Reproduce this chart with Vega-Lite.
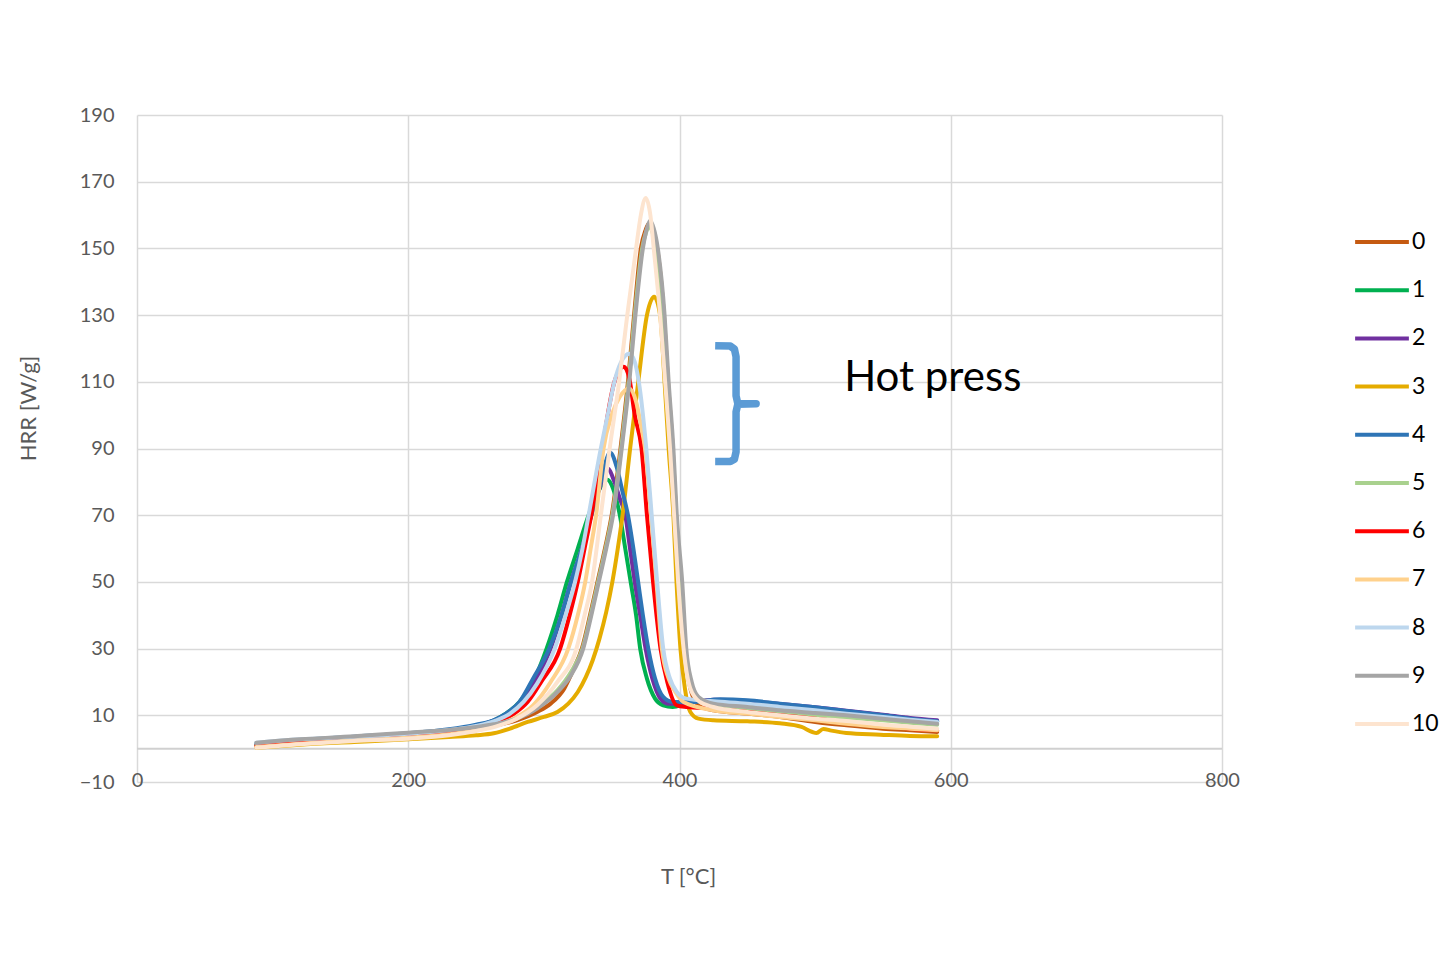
{
  "$schema": "https://vega.github.io/schema/vega-lite/v6.json",
  "width": 1085,
  "height": 667,
  "autosize": {"type": "none"},
  "padding": {"left": 137, "top": 115, "right": 227, "bottom": 173},
  "background": "white",
  "config": {
    "font": "Lato",
    "view": {"stroke": null},
    "axis": {"gridColor": "#d9d9d9", "gridWidth": 1.5, "domain": false, "ticks": false, "labelColor": "#595959", "labelFontSize": 20, "titleColor": "#595959", "titleFontSize": 22, "titleFontWeight": "normal", "labelFont": "Lato", "titleFont": "Lato"}
  },
  "datasets": {
    "hrr": [
      {"s":"0","T":88,"H":0.8},{"s":"0","T":120,"H":1.8},{"s":"0","T":160,"H":2.7},{"s":"0","T":200,"H":3.8},{"s":"0","T":230,"H":4.8},{"s":"0","T":250,"H":5.8},{"s":"0","T":265,"H":7},{"s":"0","T":280,"H":8.5},{"s":"0","T":295,"H":11},{"s":"0","T":305,"H":13.5},{"s":"0","T":315,"H":18},{"s":"0","T":322,"H":24},{"s":"0","T":328,"H":30},{"s":"0","T":334,"H":40},{"s":"0","T":339.5,"H":50},{"s":"0","T":345,"H":60},{"s":"0","T":350,"H":70},{"s":"0","T":356.5,"H":90},{"s":"0","T":362,"H":110},{"s":"0","T":366.5,"H":130},{"s":"0","T":371.5,"H":150},{"s":"0","T":375,"H":155.5},{"s":"0","T":377.4,"H":157.5},{"s":"0","T":380,"H":155.5},{"s":"0","T":383.5,"H":150},{"s":"0","T":388.5,"H":130},{"s":"0","T":391.5,"H":110},{"s":"0","T":395,"H":90},{"s":"0","T":397.5,"H":70},{"s":"0","T":401,"H":50},{"s":"0","T":404,"H":30},{"s":"0","T":408,"H":18},{"s":"0","T":414,"H":13},{"s":"0","T":425,"H":11.5},{"s":"0","T":450,"H":10.5},{"s":"0","T":474,"H":9.5},{"s":"0","T":500,"H":8},{"s":"0","T":523,"H":7},{"s":"0","T":550,"H":6},{"s":"0","T":570,"H":5.5},{"s":"0","T":590,"H":5},
      {"s":"1","T":88,"H":1},{"s":"1","T":120,"H":2.2},{"s":"1","T":160,"H":3.2},{"s":"1","T":200,"H":4.3},{"s":"1","T":230,"H":5.4},{"s":"1","T":250,"H":6.8},{"s":"1","T":262,"H":8.3},{"s":"1","T":272,"H":10.5},{"s":"1","T":282,"H":14},{"s":"1","T":292,"H":20},{"s":"1","T":302,"H":30},{"s":"1","T":310,"H":40},{"s":"1","T":317,"H":50},{"s":"1","T":325,"H":60},{"s":"1","T":333,"H":70},{"s":"1","T":340,"H":77},{"s":"1","T":346.6,"H":80.7},{"s":"1","T":351,"H":78},{"s":"1","T":356,"H":70},{"s":"1","T":360,"H":60},{"s":"1","T":364,"H":50},{"s":"1","T":368,"H":40},{"s":"1","T":371,"H":30},{"s":"1","T":376,"H":21},{"s":"1","T":382,"H":15},{"s":"1","T":388,"H":13},{"s":"1","T":395,"H":12.5},{"s":"1","T":405,"H":13.5},{"s":"1","T":425,"H":14.5},{"s":"1","T":450,"H":14},{"s":"1","T":474,"H":13.2},{"s":"1","T":500,"H":12.2},{"s":"1","T":523,"H":11.2},{"s":"1","T":550,"H":10},{"s":"1","T":570,"H":9},{"s":"1","T":590,"H":8.2},
      {"s":"2","T":88,"H":1},{"s":"2","T":120,"H":2.2},{"s":"2","T":160,"H":3.3},{"s":"2","T":200,"H":4.3},{"s":"2","T":230,"H":5.5},{"s":"2","T":250,"H":6.8},{"s":"2","T":265,"H":8.8},{"s":"2","T":275,"H":11},{"s":"2","T":285,"H":15},{"s":"2","T":295,"H":21},{"s":"2","T":305,"H":30},{"s":"2","T":313,"H":40},{"s":"2","T":320,"H":50},{"s":"2","T":328,"H":60},{"s":"2","T":335,"H":70},{"s":"2","T":341,"H":78},{"s":"2","T":347,"H":84},{"s":"2","T":352,"H":80},{"s":"2","T":356,"H":75},{"s":"2","T":360,"H":70},{"s":"2","T":363.5,"H":60},{"s":"2","T":367,"H":50},{"s":"2","T":371,"H":40},{"s":"2","T":375,"H":30},{"s":"2","T":380,"H":21},{"s":"2","T":386,"H":15},{"s":"2","T":392,"H":13.5},{"s":"2","T":400,"H":13.5},{"s":"2","T":425,"H":14.7},{"s":"2","T":450,"H":14.3},{"s":"2","T":474,"H":13.4},{"s":"2","T":500,"H":12.4},{"s":"2","T":523,"H":11.4},{"s":"2","T":550,"H":10.2},{"s":"2","T":570,"H":9.2},{"s":"2","T":590,"H":8.5},
      {"s":"3","T":88,"H":0.3},{"s":"3","T":120,"H":1.2},{"s":"3","T":160,"H":2},{"s":"3","T":200,"H":2.8},{"s":"3","T":230,"H":3.5},{"s":"3","T":250,"H":4},{"s":"3","T":263,"H":4.6},{"s":"3","T":275,"H":6},{"s":"3","T":288,"H":8},{"s":"3","T":300,"H":9.5},{"s":"3","T":310,"H":11},{"s":"3","T":318,"H":13.5},{"s":"3","T":325,"H":17},{"s":"3","T":331,"H":21.5},{"s":"3","T":336,"H":26.5},{"s":"3","T":341,"H":33},{"s":"3","T":346,"H":41},{"s":"3","T":350.5,"H":50},{"s":"3","T":354.5,"H":60},{"s":"3","T":358,"H":70},{"s":"3","T":363.6,"H":90},{"s":"3","T":369.6,"H":110},{"s":"3","T":376,"H":130},{"s":"3","T":381.3,"H":135.5},{"s":"3","T":385.7,"H":130},{"s":"3","T":389,"H":110},{"s":"3","T":392,"H":90},{"s":"3","T":395.5,"H":70},{"s":"3","T":397.8,"H":50},{"s":"3","T":400.7,"H":30},{"s":"3","T":404,"H":18},{"s":"3","T":408,"H":11},{"s":"3","T":414,"H":9},{"s":"3","T":425,"H":8.5},{"s":"3","T":450,"H":8.2},{"s":"3","T":474,"H":7.6},{"s":"3","T":490,"H":6.5},{"s":"3","T":498,"H":5},{"s":"3","T":501,"H":4.7},{"s":"3","T":506,"H":5.9},{"s":"3","T":512,"H":5.4},{"s":"3","T":523,"H":4.7},{"s":"3","T":548,"H":4.2},{"s":"3","T":570,"H":3.8},{"s":"3","T":590,"H":3.7},
      {"s":"4","T":88,"H":1.5},{"s":"4","T":120,"H":2.6},{"s":"4","T":160,"H":3.6},{"s":"4","T":200,"H":4.6},{"s":"4","T":230,"H":5.8},{"s":"4","T":250,"H":7.2},{"s":"4","T":263,"H":8.5},{"s":"4","T":272,"H":10.5},{"s":"4","T":282,"H":14},{"s":"4","T":292,"H":21},{"s":"4","T":304,"H":30},{"s":"4","T":313,"H":40},{"s":"4","T":320,"H":50},{"s":"4","T":328,"H":60},{"s":"4","T":335,"H":70},{"s":"4","T":342,"H":80},{"s":"4","T":348.8,"H":88.8},{"s":"4","T":354,"H":84},{"s":"4","T":358,"H":77},{"s":"4","T":362,"H":70},{"s":"4","T":366,"H":60},{"s":"4","T":369.5,"H":50},{"s":"4","T":373,"H":40},{"s":"4","T":377,"H":30},{"s":"4","T":382,"H":21},{"s":"4","T":388,"H":15.5},{"s":"4","T":395,"H":14},{"s":"4","T":410,"H":14},{"s":"4","T":430,"H":14.8},{"s":"4","T":450,"H":14.5},{"s":"4","T":474,"H":13.5},{"s":"4","T":500,"H":12.4},{"s":"4","T":523,"H":11.3},{"s":"4","T":550,"H":10},{"s":"4","T":570,"H":9},{"s":"4","T":590,"H":8.2},
      {"s":"5","T":88,"H":1},{"s":"5","T":120,"H":2.2},{"s":"5","T":160,"H":3.2},{"s":"5","T":200,"H":4.2},{"s":"5","T":230,"H":5.2},{"s":"5","T":250,"H":6.2},{"s":"5","T":265,"H":7.5},{"s":"5","T":280,"H":9},{"s":"5","T":295,"H":12.5},{"s":"5","T":310,"H":17.5},{"s":"5","T":320,"H":23},{"s":"5","T":328.5,"H":30},{"s":"5","T":334.5,"H":40},{"s":"5","T":340,"H":50},{"s":"5","T":345.5,"H":60},{"s":"5","T":350.5,"H":70},{"s":"5","T":357,"H":90},{"s":"5","T":362.5,"H":110},{"s":"5","T":367,"H":130},{"s":"5","T":372.5,"H":150},{"s":"5","T":375.5,"H":155},{"s":"5","T":377.5,"H":156.7},{"s":"5","T":380,"H":155},{"s":"5","T":383,"H":150},{"s":"5","T":388,"H":130},{"s":"5","T":391,"H":110},{"s":"5","T":394.5,"H":90},{"s":"5","T":397,"H":70},{"s":"5","T":400.5,"H":50},{"s":"5","T":403.5,"H":30},{"s":"5","T":407.5,"H":20},{"s":"5","T":413,"H":15},{"s":"5","T":425,"H":13},{"s":"5","T":450,"H":12},{"s":"5","T":474,"H":11},{"s":"5","T":500,"H":10},{"s":"5","T":523,"H":9.3},{"s":"5","T":550,"H":8.5},{"s":"5","T":570,"H":7.8},{"s":"5","T":590,"H":7.2},
      {"s":"6","T":88,"H":0.8},{"s":"6","T":120,"H":2},{"s":"6","T":160,"H":3},{"s":"6","T":200,"H":4},{"s":"6","T":230,"H":5},{"s":"6","T":250,"H":6.3},{"s":"6","T":265,"H":8},{"s":"6","T":278,"H":10.5},{"s":"6","T":288,"H":14},{"s":"6","T":298,"H":20},{"s":"6","T":312,"H":30},{"s":"6","T":319,"H":40},{"s":"6","T":325,"H":50},{"s":"6","T":330,"H":60},{"s":"6","T":335,"H":70},{"s":"6","T":343,"H":90},{"s":"6","T":352,"H":110},{"s":"6","T":359,"H":114.5},{"s":"6","T":363,"H":111},{"s":"6","T":367,"H":100},{"s":"6","T":372,"H":90},{"s":"6","T":376,"H":70},{"s":"6","T":380.5,"H":50},{"s":"6","T":386,"H":30},{"s":"6","T":391,"H":20},{"s":"6","T":398,"H":13},{"s":"6","T":405,"H":12.5},{"s":"6","T":425,"H":12},{"s":"6","T":450,"H":11},{"s":"6","T":474,"H":10},{"s":"6","T":500,"H":9},{"s":"6","T":523,"H":8},{"s":"6","T":550,"H":7},{"s":"6","T":570,"H":6},{"s":"6","T":590,"H":5.5},
      {"s":"7","T":88,"H":0.5},{"s":"7","T":120,"H":1.5},{"s":"7","T":160,"H":2.5},{"s":"7","T":200,"H":3.3},{"s":"7","T":230,"H":4.3},{"s":"7","T":250,"H":5.5},{"s":"7","T":265,"H":7},{"s":"7","T":280,"H":9.5},{"s":"7","T":292,"H":13},{"s":"7","T":305,"H":20},{"s":"7","T":318,"H":30},{"s":"7","T":325,"H":40},{"s":"7","T":330.5,"H":50},{"s":"7","T":334.5,"H":60},{"s":"7","T":338.5,"H":70},{"s":"7","T":344,"H":90},{"s":"7","T":350,"H":100},{"s":"7","T":356,"H":105.5},{"s":"7","T":363,"H":108},{"s":"7","T":368,"H":104},{"s":"7","T":372,"H":96},{"s":"7","T":374.6,"H":90},{"s":"7","T":379,"H":70},{"s":"7","T":383,"H":50},{"s":"7","T":387,"H":30},{"s":"7","T":392,"H":21},{"s":"7","T":397,"H":17},{"s":"7","T":403,"H":14},{"s":"7","T":425,"H":11.5},{"s":"7","T":450,"H":10.5},{"s":"7","T":474,"H":9.5},{"s":"7","T":500,"H":8.5},{"s":"7","T":523,"H":7.5},{"s":"7","T":550,"H":6.5},{"s":"7","T":570,"H":6},{"s":"7","T":590,"H":5.5},
      {"s":"8","T":88,"H":1.8},{"s":"8","T":120,"H":2.8},{"s":"8","T":160,"H":3.6},{"s":"8","T":200,"H":4.5},{"s":"8","T":230,"H":5.6},{"s":"8","T":250,"H":6.8},{"s":"8","T":265,"H":8.5},{"s":"8","T":275,"H":10.5},{"s":"8","T":285,"H":14},{"s":"8","T":295,"H":19.5},{"s":"8","T":308,"H":30},{"s":"8","T":316,"H":40},{"s":"8","T":323,"H":50},{"s":"8","T":328.5,"H":60},{"s":"8","T":333,"H":70},{"s":"8","T":342,"H":90},{"s":"8","T":347,"H":100},{"s":"8","T":352,"H":110},{"s":"8","T":357,"H":116},{"s":"8","T":363,"H":118.4},{"s":"8","T":367,"H":116},{"s":"8","T":370,"H":110},{"s":"8","T":375.5,"H":90},{"s":"8","T":379.5,"H":70},{"s":"8","T":383.5,"H":50},{"s":"8","T":388,"H":30},{"s":"8","T":393,"H":21},{"s":"8","T":398,"H":17},{"s":"8","T":405,"H":15},{"s":"8","T":425,"H":14.2},{"s":"8","T":450,"H":13.5},{"s":"8","T":474,"H":12.5},{"s":"8","T":500,"H":11.5},{"s":"8","T":523,"H":10.5},{"s":"8","T":550,"H":9.5},{"s":"8","T":570,"H":8.7},{"s":"8","T":590,"H":8},
      {"s":"9","T":88,"H":1.8},{"s":"9","T":120,"H":2.8},{"s":"9","T":160,"H":3.7},{"s":"9","T":200,"H":4.8},{"s":"9","T":230,"H":5.6},{"s":"9","T":250,"H":6.5},{"s":"9","T":263,"H":7.3},{"s":"9","T":280,"H":9},{"s":"9","T":295,"H":12},{"s":"9","T":310,"H":17},{"s":"9","T":320,"H":22},{"s":"9","T":329,"H":30},{"s":"9","T":335,"H":40},{"s":"9","T":340.5,"H":50},{"s":"9","T":346,"H":60},{"s":"9","T":351,"H":70},{"s":"9","T":357.4,"H":90},{"s":"9","T":363,"H":110},{"s":"9","T":367.5,"H":130},{"s":"9","T":373,"H":150},{"s":"9","T":376,"H":156},{"s":"9","T":378.3,"H":158.3},{"s":"9","T":381,"H":156},{"s":"9","T":384,"H":150},{"s":"9","T":389,"H":130},{"s":"9","T":392,"H":110},{"s":"9","T":395.5,"H":90},{"s":"9","T":398,"H":70},{"s":"9","T":402,"H":50},{"s":"9","T":405,"H":30},{"s":"9","T":409,"H":20},{"s":"9","T":414,"H":15.5},{"s":"9","T":425,"H":13.5},{"s":"9","T":450,"H":12.5},{"s":"9","T":474,"H":11.5},{"s":"9","T":500,"H":10.7},{"s":"9","T":523,"H":10},{"s":"9","T":550,"H":9},{"s":"9","T":570,"H":8.2},{"s":"9","T":590,"H":7.5},
      {"s":"10","T":88,"H":0.3},{"s":"10","T":120,"H":1.3},{"s":"10","T":160,"H":2.3},{"s":"10","T":200,"H":3},{"s":"10","T":230,"H":4},{"s":"10","T":250,"H":5.3},{"s":"10","T":265,"H":6.7},{"s":"10","T":280,"H":9},{"s":"10","T":295,"H":13},{"s":"10","T":310,"H":20},{"s":"10","T":324,"H":30},{"s":"10","T":330,"H":40},{"s":"10","T":335.5,"H":50},{"s":"10","T":342,"H":70},{"s":"10","T":348.5,"H":90},{"s":"10","T":355.5,"H":110},{"s":"10","T":361.5,"H":130},{"s":"10","T":368,"H":150},{"s":"10","T":371.5,"H":160},{"s":"10","T":375.1,"H":165.1},{"s":"10","T":378.5,"H":160},{"s":"10","T":381,"H":150},{"s":"10","T":385.7,"H":130},{"s":"10","T":389.4,"H":110},{"s":"10","T":393,"H":90},{"s":"10","T":396,"H":70},{"s":"10","T":399,"H":50},{"s":"10","T":403,"H":30},{"s":"10","T":408,"H":18},{"s":"10","T":415,"H":14},{"s":"10","T":425,"H":12.5},{"s":"10","T":450,"H":11},{"s":"10","T":474,"H":10},{"s":"10","T":500,"H":9},{"s":"10","T":523,"H":8.3},{"s":"10","T":550,"H":7.2},{"s":"10","T":570,"H":6.6},{"s":"10","T":590,"H":6}
    ],
    "bracket": [
      {"o":1,"T":426.3,"H":120.8},{"o":2,"T":437.5,"H":120.7},{"o":3,"T":440.5,"H":119.8},{"o":4,"T":441.7,"H":117.5},{"o":5,"T":441.7,"H":105.8},{"o":6,"T":443,"H":103.4},{"o":7,"T":456.5,"H":103.4},{"o":8,"T":443,"H":103.3},{"o":9,"T":441.7,"H":101},{"o":10,"T":441.7,"H":89},{"o":11,"T":440.5,"H":86.8},{"o":12,"T":437.5,"H":86.1},{"o":13,"T":426.3,"H":86.1}
    ],
    "note": [{"T":521.4,"H":107.3,"label":"Hot press"}]
  },
  "layer": [
    {
      "data": {"values": [{"z": 0}]},
      "mark": {"type": "rule", "color": "#d0d0d0", "strokeWidth": 2},
      "encoding": {"y": {"field": "z", "type": "quantitative", "scale": {"domain": [-10, 190], "nice": false, "zero": false}}}
    },
    {
      "data": {"name": "hrr"},
      "mark": {"type": "line", "interpolate": "monotone", "strokeCap": "round", "strokeJoin": "round"},
      "encoding": {
        "x": {"field": "T", "type": "quantitative", "scale": {"domain": [0, 800], "nice": false},
          "axis": {"values": [0, 200, 400, 600, 800], "labelBaseline": "middle", "labelPadding": -2, "labelFlush": false, "labelOverlap": false, "title": "T [°C]", "titleX": 551, "titleY": 94, "titleBaseline": "middle", "titleAlign": "center"}},
        "y": {"field": "H", "type": "quantitative", "scale": {"domain": [-10, 190], "nice": false, "zero": false},
          "axis": {"values": [-10, 10, 30, 50, 70, 90, 110, 130, 150, 170, 190], "labelPadding": 23, "labelOverlap": false, "labelFlush": false, "title": "HRR [W/g]", "titleX": -109, "titleY": 293, "titleAngle": -90, "titleAlign": "center", "titleBaseline": "middle"}},
        "color": {"field": "s", "type": "nominal",
          "scale": {"domain": ["0","1","2","3","4","5","6","7","8","9","10"], "range": ["#C55A11","#00B050","#7030A0","#E5AC00","#2E75B6","#A9D18E","#FF0000","#FFD18C","#BDD7EE","#A5A5A5","#FDE4CF"]},
          "legend": {"title": null, "orient": "none", "legendX": 1219, "legendY": 101, "padding": 0, "symbolType": "M-1.12,0H1.12", "symbolSize": 2304, "symbolStrokeWidth": 3, "labelFontSize": 23, "labelColor": "#000000", "labelOffset": 4, "rowPadding": 10.2, "labelFont": "Lato"}},
        "strokeWidth": {"field": "s", "type": "nominal", "legend": null,
          "scale": {"domain": ["0","1","2","3","4","5","6","7","8","9","10"], "range": [4,4,4,4,4,2.5,2.5,4,4,4.5,4]}}
      }
    },
    {
      "data": {"name": "bracket"},
      "mark": {"type": "line", "color": "#5B9BD5", "strokeWidth": 7.5, "strokeJoin": "round", "strokeCap": "butt"},
      "encoding": {
        "x": {"field": "T", "type": "quantitative"},
        "y": {"field": "H", "type": "quantitative"},
        "order": {"field": "o", "type": "quantitative"}
      }
    },
    {
      "data": {"name": "note"},
      "mark": {"type": "text", "align": "left", "baseline": "alphabetic", "fontSize": 42, "color": "#000000", "font": "Lato"},
      "encoding": {
        "x": {"field": "T", "type": "quantitative"},
        "y": {"field": "H", "type": "quantitative"},
        "text": {"field": "label"}
      }
    }
  ]
}
